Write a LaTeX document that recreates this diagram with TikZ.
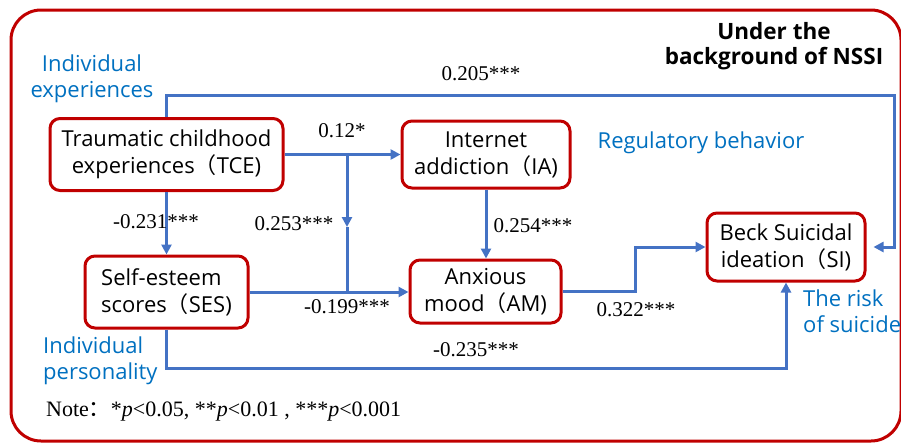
\documentclass[tikz,border=0pt]{standalone}
\usepackage{fontspec}
\setmainfont{Liberation Serif}
\newfontfamily\sansf{Open Sans}
\newfontfamily\cjk{Noto Sans CJK SC}
\usetikzlibrary{arrows.meta}
\definecolor{fr}{HTML}{C00000}
\definecolor{ln}{HTML}{4472C4}
\definecolor{bt}{HTML}{0070C0}
\newcommand{\fp}{{\cjk （}}
\begin{document}
\begin{tikzpicture}[x=1pt,y=-1pt,
  box/.style={draw=fr, line width=3pt, rounded corners=10pt, align=center,
    font=\sansf\fontsize{22}{27}\selectfont, inner sep=0pt},
  conn/.style={draw=ln, line width=3pt},
  tip/.style={-{Triangle[length=10pt,width=10pt]}},
  num/.style={font=\fontsize{21}{24}\selectfont, inner sep=0pt},
  blue/.style={text=bt, font=\sansf\fontsize{22}{26}\selectfont, inner sep=0pt}]
\useasboundingbox (0,0) rectangle (901,442);
\draw[fr, line width=3pt, rounded corners=30pt] (11,10) rectangle (901,441);

\node[box, minimum width=233pt, minimum height=72pt] (TCE) at (166.5,154.5) {Traumatic childhood\\experiences\fp TCE)};
\node[box, minimum width=168pt, minimum height=67pt] (IA) at (486,154.5) {Internet\\addiction\fp IA)};
\node[box, minimum width=163pt, minimum height=72pt, align=left] (SES) at (166.5,292) {Self-esteem\\scores\fp SES)};
\node[box, minimum width=151pt, minimum height=63pt] (AM) at (485.5,291.5) {Anxious\\mood\fp AM)};
\node[box, minimum width=158pt, minimum height=68pt] (SI) at (786,247) {Beck Suicidal\\ideation\fp SI)};

\coordinate (rtop) at (894,95);
\coordinate (br) at (347,154.5);
\coordinate (mid) at (347,227);
\coordinate (jx) at (635,0);
\coordinate (bot) at (0,368);

\draw[conn, tip, shorten >=7pt] (TCE.north) |- (rtop) |- (SI.east);
\draw[conn, tip] (TCE.east) -- (IA.west);
\draw[conn, tip] (br) -- (mid);
\draw[conn] (mid) -- (br |- SES.east);
\draw[conn, tip] (SES.east) -- (SES.east -| AM.west);
\draw[conn, tip] (TCE.south) -- (SES.north);
\draw[conn, tip] (IA.south) -- (IA.south |- AM.north);
\draw[conn, tip] (AM.east) -- (AM.east -| jx) |- (SI.west);
\draw[conn, tip] (SES.south) -- (SES.south |- bot) -| (SI.south);

\node[num] (n205) at (481,74) {0.205***};
\node[num] (n12) at (342,131) {0.12*};
\node[num] (n231) at (156,222) {-0.231***};
\node[num] (n253) at (294,224) {0.253***};
\node[num] (n254) at (533,226) {0.254***};
\node[num] (n199) at (347,307) {-0.199***};
\node[num] (n322) at (636,310) {0.322***};
\node[num] (n235) at (476,350) {-0.235***};

\node[blue, align=center] (ie) at (92,79) {Individual\\experiences};
\node[blue] (rb) at (701,143) {Regulatory behavior};
\node[blue, align=left, anchor=west] (ip) at (43,361) {Individual\\personality};
\node[blue, align=left, anchor=west] (rs) at (803,311) {The risk\\of suicide};
\node[align=center, font=\sansf\bfseries\fontsize{22.5}{25}\selectfont, inner sep=0pt] (nssi) at (774,46) {Under the\\background of NSSI};

\node[anchor=west, inner sep=0pt, font=\fontsize{22}{24}\selectfont] (note) at (46,412) {Note{\cjk ：}*\textit{p}<0.05, **\textit{p}<0.01 , ***\textit{p}<0.001};
\end{tikzpicture}
\end{document}
